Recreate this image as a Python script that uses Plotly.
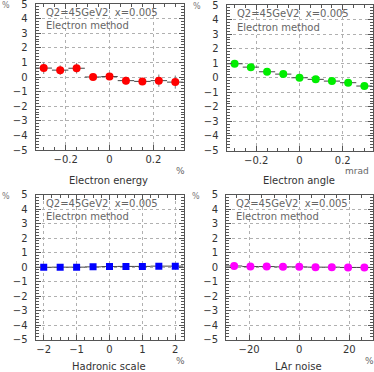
import plotly.graph_objects as go

W, H = 374, 372

# ---- data ----
e_energy_x = [-0.3, -0.225, -0.15, -0.075, 0.0, 0.075, 0.15, 0.225, 0.3]
e_energy_y = [0.61, 0.47, 0.6, 0.0, 0.03, -0.25, -0.3, -0.25, -0.35]
e_energy_err = [0.4, 0.33, 0.36, 0.2, 0.1, 0.27, 0.2, 0.42, 0.45]
e_energy_binhalf = 0.0375

e_angle_x = [-0.3, -0.225, -0.15, -0.075, 0.0, 0.075, 0.15, 0.225, 0.3]
e_angle_y = [0.96, 0.73, 0.41, 0.25, 0.0, -0.11, -0.23, -0.34, -0.57]
e_angle_err = [0.05, 0.05, 0.05, 0.05, 0.05, 0.05, 0.05, 0.05, 0.05]
e_angle_binhalf = 0.0375

had_x = [-2.0, -1.5, -1.0, -0.5, 0.0, 0.5, 1.0, 1.5, 2.0]
had_y = [-0.02, -0.01, -0.01, 0.01, 0.03, 0.04, 0.04, 0.06, 0.06]
had_binhalf = 0.25

lar_x = [-26.0, -19.5, -13.0, -6.5, 0.0, 6.5, 13.0, 19.5, 26.0]
lar_y = [0.07, 0.03, 0.03, 0.01, 0.01, -0.01, -0.01, -0.03, -0.03]
lar_binhalf = 3.25

panel_titles = ["Electron energy", "Electron angle", "Hadronic scale", "LAr noise"]
panel_units = ["%", "mrad", "%", "%"]
label1 = "Q2=45GeV2  x=0.005"
label2 = "Electron method"

# ---- layout helpers ----
def px(x):
    return x / W

def py(y):
    return 1 - y / H

boxes = [
    (35.5, 183.5, 4, 150),
    (226.5, 372.5, 5, 150.5),
    (35.5, 183.5, 194.5, 339.5),
    (226.0, 372.5, 194.5, 339.5),
]

series = [
    (e_energy_x, e_energy_y, e_energy_err, e_energy_binhalf, "#ff0000", "circle"),
    (e_angle_x, e_angle_y, e_angle_err, e_angle_binhalf, "#00ee00", "circle"),
    (had_x, had_y, None, had_binhalf, "#0000ff", "square"),
    (lar_x, lar_y, None, lar_binhalf, "#ff00ff", "circle"),
]

xranges = [[-0.3375, 0.3375], [-0.3375, 0.3375], [-2.25, 2.25], [-29.25, 29.25]]
xdticks = [0.2, 0.2, 1, 20]
xminor = [0.05, 0.05, 0.25, 5]

AX = "#555555"
TXT = "#333333"
FONT = "DejaVu Sans"

fig = go.Figure()
annotations = []
for i, ((x0, x1, y0, y1), (xs, ys, errs, bh, col, sym)) in enumerate(zip(boxes, series)):
    n = i + 1
    xa = "x" if n == 1 else f"x{n}"
    ya = "y" if n == 1 else f"y{n}"
    tr = dict(
        x=xs, y=ys, mode="markers", xaxis=xa, yaxis=ya, showlegend=False,
        marker=dict(color=col, symbol=sym, size=8 if sym == "circle" else 7, line=dict(width=0)),
        error_x=dict(type="constant", value=bh, color="#444444", thickness=1, width=0),
    )
    if errs is not None:
        tr["error_y"] = dict(type="data", array=errs, color="#777777", thickness=1, width=0)
    fig.add_trace(go.Scatter(**tr))

    common = dict(
        showline=True, linecolor=AX, linewidth=1, mirror="allticks",
        ticks="inside", ticklen=5, tickcolor=AX, tickwidth=1, automargin=False,
        showgrid=True, gridcolor="#b0b0b0", griddash="dot", gridwidth=1,
        zeroline=False, tickfont=dict(family=FONT, size=10, color=TXT),
        ticklabeloverflow="allow",
    )
    fig.layout[f"xaxis{'' if n == 1 else n}"] = dict(
        common, domain=[px(x0), px(x1)], anchor=ya, range=xranges[i],
        dtick=xdticks[i], tick0=0,
        minor=dict(ticks="inside", ticklen=3, tickcolor=AX, dtick=xminor[i], tick0=0, showgrid=False),
    )
    fig.layout[f"yaxis{'' if n == 1 else n}"] = dict(
        common, domain=[py(y1), py(y0)], anchor=xa, range=[-5, 5],
        dtick=1, tick0=0, ticklabelstandoff=5,
        minor=dict(ticks="inside", ticklen=3, tickcolor=AX, dtick=0.2, tick0=0, showgrid=False),
    )

    annotations += [
        dict(x=px(x0 + 8), y=py(y0 + 9), text=label1, xanchor="left", yanchor="middle",
             font=dict(family=FONT, size=10, color="#666666")),
        dict(x=px(x0 + 8), y=py(y0 + 22), text=label2, xanchor="left", yanchor="middle",
             font=dict(family=FONT, size=10, color="#666666")),
        dict(x=px(x0 - 30), y=py(y0 + 2), text="%", xanchor="center", yanchor="middle",
             font=dict(family=FONT, size=8, color="#777777")),
        dict(x=px((x0 + x1) / 2 - 1), y=py(min(y1 + 30, 366)), text=panel_titles[i], xanchor="center",
             yanchor="middle", font=dict(family=FONT, size=10, color=TXT)),
        dict(x=px(x1 - (16 if panel_units[i] == "mrad" else 3)), y=py(y1 + 21), text=panel_units[i],
             xanchor="center", yanchor="middle", font=dict(family=FONT, size=9, color="#666666")),
    ]

fig.update_layout(
    width=W, height=H, margin=dict(l=0, r=0, t=0, b=0, pad=0, autoexpand=False),
    paper_bgcolor="white", plot_bgcolor="white",
    annotations=annotations,
)
for a in fig.layout.annotations:
    a.update(showarrow=False, xref="paper", yref="paper")

fig.write_html(
    "out.html",
    config={"displayModeBar": False},
    post_script="document.body.style.margin='0';document.body.style.overflow='hidden';",
)
